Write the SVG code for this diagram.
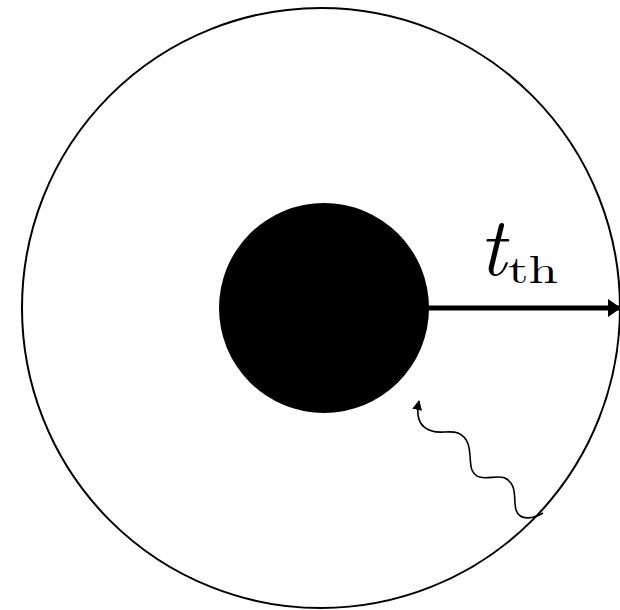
<svg xmlns="http://www.w3.org/2000/svg" width="620" height="610" viewBox="0 0 620 610">
<defs>
<style>
.outer{fill:none;stroke:#000;stroke-width:2}
.conn{fill:none;stroke:#000}
.lbl{font-family:"Latin Modern Roman","Liberation Serif",serif;fill:#000}
</style>
<marker id="ah" markerWidth="10" markerHeight="10" refX="9" refY="5" orient="auto" markerUnits="userSpaceOnUse">
<path d="M0,0 L10,5 L0,10 Z" fill="#000"/>
</marker>
<marker id="big" markerWidth="13" markerHeight="18" refX="13" refY="9" orient="auto" markerUnits="userSpaceOnUse">
<path d="M0,0 L13,9 L0,18 Z" fill="#000"/>
</marker>
</defs>
<rect width="620" height="610" fill="#fff"/>
<g id="outer-circle"><ellipse class="outer" cx="321" cy="308" rx="299" ry="300"/></g>
<g id="core"><circle cx="324" cy="308" r="105" fill="#000"/></g>
<g id="connectors">
<line class="conn" x1="428" y1="308" x2="621" y2="308" stroke-width="5" marker-end="url(#big)"/>
<path class="conn" stroke-width="1.6" d="M 543 513 C 535 518, 520 522, 516 510 C 513 498, 518 485, 505 478 C 495 474, 478 484, 472 470 C 468 460, 474 440, 458 433 C 450 430, 440 434, 432 431 C 418 427, 416 415, 419 401" marker-end="url(#ah)"/>
</g>
<g id="label">
<text class="lbl" x="479" y="275" font-size="84" font-style="italic" textLength="27" lengthAdjust="spacingAndGlyphs">t</text>
<text class="lbl" x="508" y="283" font-size="39" textLength="50" lengthAdjust="spacingAndGlyphs">th</text>
</g>
</svg>
